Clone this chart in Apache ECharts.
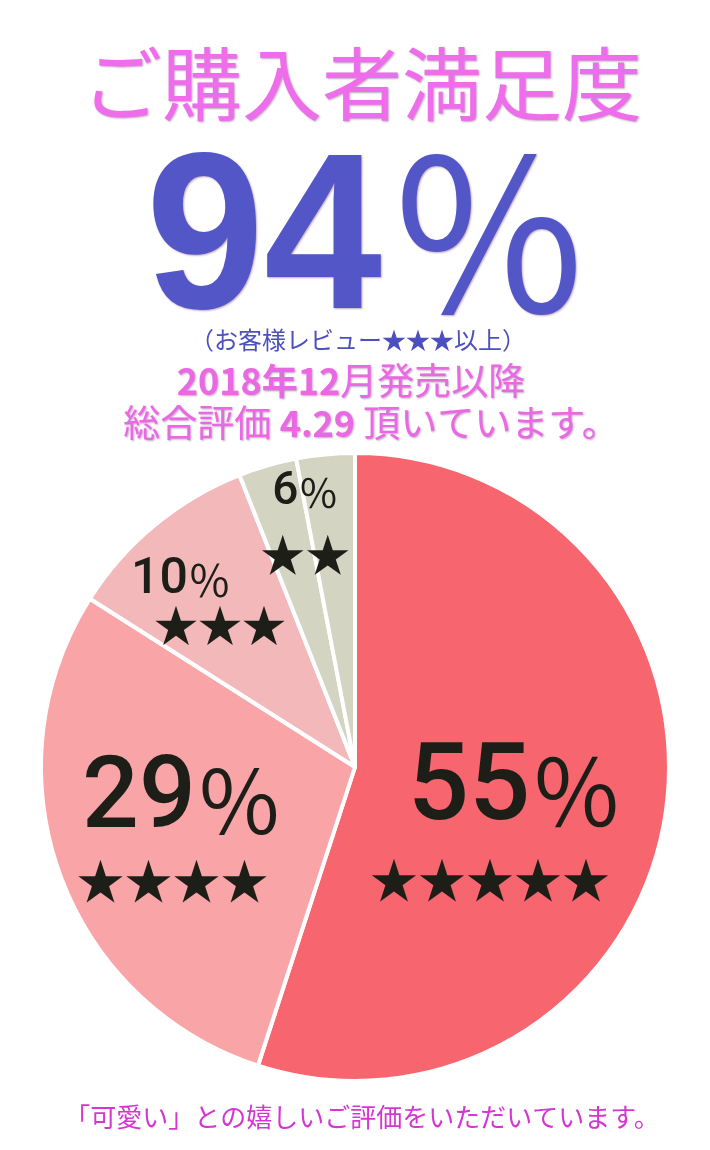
<!DOCTYPE html>
<html>
<head>
<meta charset="utf-8">
<script src="https://cdn.jsdelivr.net/npm/echarts@6/dist/echarts.min.js"></script>
<style>
html,body{margin:0;padding:0;background:#ffffff;}
#chart{width:710px;height:1150px;}
</style>
</head>
<body>
<div id="chart"></div>
<script>
// ---- data ----
const categories = ['★★★★★', '★★★★', '★★★', '★★', '★'];
const values = [55, 29, 10, 3, 3];
const labelPercents = ['55', '29', '10', '6', ''];
const labelStars = ['★★★★★', '★★★★', '★★★', '★★', ''];
const headline = 'ご購入者満足度';
const bigValue = '94';
const note = '（お客様レビュー★★★以上）';
const footer = '「可愛い」との嬉しいご評価をいただいています。';

// ---- styles ----
const sliceColors = ['#F7666F', '#F9A4A7', '#F2B8BA', '#D3D4C2', '#D3D4C2'];
const labelShift = [[2, 28], [-22, 5], [-33, -43], [-5, -91], [0, 0]];
const JP = '"Noto Sans CJK JP", sans-serif';
const ink = '#1E1E18';
const pink = '#EA68E4';
const blue = '#5256C6';
const shadow = {textShadowColor: 'rgba(80,0,80,0.35)', textShadowBlur: 2, textShadowOffsetX: 1, textShadowOffsetY: 1};

const chart = echarts.init(document.getElementById('chart'), null, {renderer: 'canvas'});

const rich = {
  d55: {fontFamily: 'Roboto', fontWeight: 500, fontSize: 108, color: ink, lineHeight: 120},
  p55: {fontFamily: JP, fontSize: 92, color: ink, lineHeight: 120},
  s55: {fontFamily: JP, fontSize: 48, color: ink, lineHeight: 56, padding: [0, 50, 0, 0]},
  d29: {fontFamily: 'Roboto', fontWeight: 500, fontSize: 100, color: ink, lineHeight: 110},
  p29: {fontFamily: JP, fontSize: 87, color: ink, lineHeight: 110},
  s29: {fontFamily: JP, fontSize: 48, color: ink, lineHeight: 48, padding: [0, 20, 0, 0]},
  d10: {fontFamily: 'Roboto', fontWeight: 500, fontSize: 50, color: ink, lineHeight: 50},
  p10: {fontFamily: JP, fontSize: 43, color: ink, lineHeight: 50, padding: [0, 78, 0, 0]},
  s10: {fontFamily: JP, fontSize: 44, color: ink, lineHeight: 40},
  d6: {fontFamily: 'Roboto', fontWeight: 500, fontSize: 46, color: ink, lineHeight: 66},
  p6: {fontFamily: JP, fontSize: 40, color: ink, lineHeight: 66},
  s6: {fontFamily: JP, fontSize: 45, color: ink, lineHeight: 60}
};
const richKeys = ['55', '29', '10', '6', ''];

const pieData = categories.map((c, i) => ({
  name: c,
  value: values[i],
  itemStyle: {color: sliceColors[i]},
  label: {show: labelPercents[i] !== ''}
}));

chart.setOption({
  animation: false,
  backgroundColor: '#ffffff',
  graphic: [
    {type: 'text', x: 362, y: 84, style: Object.assign({
      text: headline, align: 'center', verticalAlign: 'middle',
      font: '80px ' + JP, fill: '#EE6DEA'}, shadow)},
    {type: 'text', x: 264, y: 247, scaleY: 1.05, style: Object.assign({
      text: bigValue, align: 'center', verticalAlign: 'middle',
      font: 'bold 212px "Liberation Sans", Arial, sans-serif', fill: blue}, shadow)},
    {type: 'text', x: 489, y: 235, scaleY: 1.03, style: Object.assign({
      text: '％', align: 'center', verticalAlign: 'middle',
      font: '205px ' + JP, fill: blue}, shadow)},
    {type: 'text', x: 358, y: 340, style: {
      text: note, align: 'center', verticalAlign: 'middle',
      font: '24px ' + JP, fill: '#4B4FBF'}},
    {type: 'text', x: 351, y: 381, style: Object.assign({
      text: '{b|2018年12}{r|月発売以降}', align: 'center', verticalAlign: 'middle',
      rich: {
        b: {fontFamily: JP, fontWeight: 'bold', fontSize: 36, fill: pink},
        r: {fontFamily: JP, fontSize: 37, fill: pink}
      }}, shadow)},
    {type: 'text', x: 371, y: 423, style: Object.assign({
      text: '{r|総合評価 }{b|4.29}{r| 頂いています。}', align: 'center', verticalAlign: 'middle',
      rich: {
        b: {fontFamily: JP, fontWeight: 'bold', fontSize: 36, fill: pink},
        r: {fontFamily: JP, fontSize: 37, fill: pink}
      }}, shadow)},
    {type: 'text', x: 362, y: 1117, style: {
      text: footer, align: 'center', verticalAlign: 'middle',
      font: '26px ' + JP, fill: '#D535D2'}}
  ],
  series: [{
    type: 'pie',
    center: [355, 767],
    radius: [0, 314],
    startAngle: 90,
    clockwise: true,
    avoidLabelOverlap: false,
    itemStyle: {borderColor: '#ffffff', borderWidth: 4},
    emphasis: {disabled: true},
    label: {
      show: true,
      position: 'inside',
      align: 'center',
      formatter: function (p) {
        const i = p.dataIndex;
        if (!labelPercents[i]) return '';
        const k = richKeys[i];
        return '{d' + k + '|' + labelPercents[i] + '}{p' + k + '|％}\n{s' + k + '|' + labelStars[i] + '}';
      },
      rich: rich
    },
    labelLine: {show: false},
    labelLayout: function (p) {
      const s = labelShift[p.dataIndex];
      return {dx: s[0], dy: s[1]};
    },
    data: pieData
  }]
});
</script>
</body>
</html>
